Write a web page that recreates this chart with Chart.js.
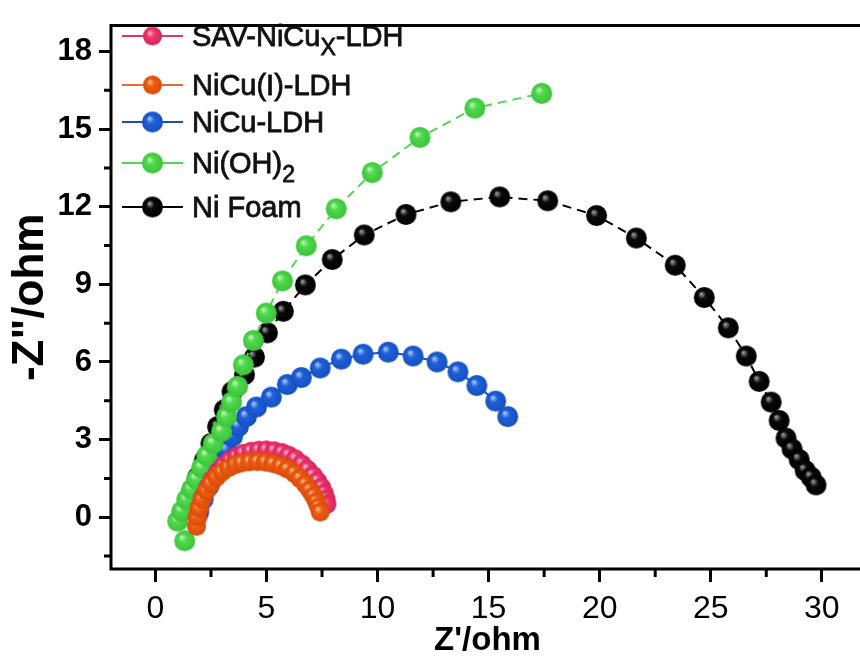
<!DOCTYPE html>
<html>
<head>
<meta charset="utf-8">
<script src="https://cdn.jsdelivr.net/npm/chart.js@4.4.1/dist/chart.umd.min.js"></script>
<style>
    html, body { margin: 0; padding: 0; background: #fff; overflow: hidden; }
    #wrap { width: 860px; height: 657px; overflow: hidden; position: relative; }
    canvas { display: block; }
</style>
</head>
<body>
<div id="wrap"><canvas id="nyquist" width="876" height="657" style="width:876px;height:657px"></canvas></div>
<script>
// --- data (Z' / -Z'' in ohm) ---
const foamX = [1.35, 1.6, 1.9, 2.2, 2.5, 2.8, 3.1, 3.45, 4.01, 4.46, 5.04, 5.76, 6.75, 7.96, 9.40, 11.28, 13.30, 15.50, 17.66, 19.86, 21.65, 23.40, 24.71, 25.79, 26.60, 27.18, 27.72, 28.08, 28.39, 28.66, 28.98, 29.25, 29.52, 29.74];
const foamY = [0.3, 0.9, 1.55, 2.2, 2.85, 3.5, 4.15, 4.85, 5.51, 6.19, 7.13, 7.96, 8.98, 9.96, 10.91, 11.70, 12.19, 12.38, 12.23, 11.66, 10.79, 9.74, 8.49, 7.32, 6.23, 5.25, 4.45, 3.74, 3.06, 2.64, 2.23, 1.81, 1.55, 1.25];

const nioh2X = [1.32, 1.00, 1.18, 1.41, 1.63, 1.85, 2.08, 2.31, 2.60, 2.98, 3.20, 3.43, 3.70, 3.96, 4.41, 4.99, 5.72, 6.79, 8.14, 9.76, 11.91, 14.38, 17.39];
const nioh2Y = [-0.91, -0.15, 0.23, 0.68, 1.09, 1.47, 1.92, 2.38, 2.85, 3.32, 3.89, 4.45, 5.06, 5.89, 6.83, 7.89, 9.13, 10.49, 11.92, 13.32, 14.68, 15.81, 16.38];

const nicuX = [1.95, 2.15, 2.4, 2.65, 2.92, 3.2, 3.47, 3.74, 4.10, 4.55, 5.22, 5.94, 6.57, 7.42, 8.37, 9.35, 10.48, 11.60, 12.68, 13.62, 14.47, 15.32, 15.86];
const nicuY = [0.2, 0.7, 1.2, 1.65, 2.1, 2.6, 3.13, 3.51, 3.89, 4.26, 4.64, 5.13, 5.40, 5.77, 6.11, 6.30, 6.38, 6.23, 6.00, 5.62, 5.09, 4.49, 3.89];

const nicuIX = [1.85, 1.88, 1.97, 2.1, 2.3, 2.5, 2.75, 3.0, 3.3, 3.6, 3.9, 4.25, 4.6, 4.95, 5.3, 5.65, 5.95, 6.25, 6.5, 6.75, 6.95, 7.12, 7.25, 7.35, 7.42];
const nicuIY = [-0.35, 0.0, 0.35, 0.7, 1.02, 1.3, 1.55, 1.75, 1.92, 2.03, 2.1, 2.14, 2.15, 2.13, 2.07, 1.98, 1.86, 1.7, 1.5, 1.28, 1.05, 0.82, 0.6, 0.4, 0.2];

const savX = [1.9, 2.0, 2.15, 2.35, 2.55, 2.8, 3.05, 3.35, 3.65, 3.95, 4.3, 4.65, 5.0, 5.35, 5.7, 6.0, 6.3, 6.6, 6.85, 7.1, 7.3, 7.48, 7.6, 7.68, 7.72];
const savY = [0.0, 0.4, 0.8, 1.15, 1.45, 1.75, 2.0, 2.2, 2.36, 2.47, 2.55, 2.59, 2.6, 2.57, 2.5, 2.4, 2.26, 2.06, 1.85, 1.62, 1.4, 1.16, 0.93, 0.7, 0.5];

const xTickValues = [0, 5, 10, 15, 20, 25, 30];
const yTickValues = [0, 3, 6, 9, 12, 15, 18];
const xMinorTicks = [2.5, 7.5, 12.5, 17.5, 22.5, 27.5];
const yMinorTicks = [-1.5, 1.5, 4.5, 7.5, 10.5, 13.5, 16.5];

const FONT = "'Liberation Sans', Arial, Helvetica, sans-serif";

// shiny ball marker like the Origin "sphere" symbol
function makeBall(base, light, dark, r) {
    const size = Math.ceil(r * 2 + 2);
    const c = document.createElement('canvas');
    c.width = size; c.height = size;
    const g = c.getContext('2d');
    const cx = size / 2, cy = size / 2;
    const grad = g.createRadialGradient(cx - r * 0.3, cy - r * 0.35, r * 0.05, cx, cy, r);
    grad.addColorStop(0, light);
    grad.addColorStop(0.35, base);
    grad.addColorStop(1, dark);
    g.fillStyle = grad;
    g.beginPath();
    g.arc(cx, cy, r, 0, Math.PI * 2);
    g.fill();
    return c;
}

const series = [
    { label: [['SAV-NiCu'], ['X', 1], ['-LDH']], xs: savX, ys: savY, line: '#e0356c',
      ball: makeBall('#ee3a72', '#f9b3c9', '#d42259', 9.5), dash: [], order: 2 },
    { label: [['NiCu(I)-LDH']], xs: nicuIX, ys: nicuIY, line: '#e86a2a',
      ball: makeBall('#ee5d12', '#f9bb90', '#d84c08', 9.5), dash: [], order: 1 },
    { label: [['NiCu-LDH']], xs: nicuX, ys: nicuY, line: '#1a4fb5',
      ball: makeBall('#1f60d8', '#a6c6f7', '#1450c0', 10.5), dash: [], order: 4 },
    { label: [['Ni(OH)'], ['2', 1]], xs: nioh2X, ys: nioh2Y, line: '#55d652',
      ball: makeBall('#4fd94c', '#bdf3b9', '#3cc43a', 10.5), dash: [9, 6], order: 3 },
    { label: [['Ni Foam']], xs: foamX, ys: foamY, line: '#000000',
      ball: makeBall('#0a0a0a', '#9a9a9a', '#000000', 10.5), dash: [9, 6], order: 5 }
];

const datasets = series.map(s => ({
    data: s.xs.map((x, i) => ({ x: x, y: s.ys[i] })),
    showLine: true,
    borderColor: s.line,
    borderWidth: 2,
    borderDash: s.dash,
    pointStyle: s.ball,
    pointRadius: 10,
    order: s.order
}));

// axis frame (left, top, bottom; the right edge runs off the picture) + minor ticks
const frameAndMinor = {
    id: 'frameAndMinor',
    afterDraw(chart) {
        const ctx = chart.ctx, a = chart.chartArea;
        const xs = chart.scales.x, ys = chart.scales.y;
        ctx.save();
        ctx.strokeStyle = '#000';
        ctx.lineWidth = 3;
        ctx.beginPath();
        xMinorTicks.forEach(v => {
            const p = xs.getPixelForValue(v);
            ctx.moveTo(p, a.bottom); ctx.lineTo(p, a.bottom + 8);
        });
        yMinorTicks.forEach(v => {
            const p = ys.getPixelForValue(v);
            ctx.moveTo(a.left, p); ctx.lineTo(a.left - 7, p);
        });
        ctx.moveTo(chart.width, a.top);
        ctx.lineTo(a.left, a.top);
        ctx.lineTo(a.left, a.bottom);
        ctx.lineTo(chart.width, a.bottom);
        ctx.stroke();
        ctx.restore();
    }
};

// legend with subscripts, drawn inside the plot box
const legendRows = [36, 85, 122, 163, 207];
const sketchLegend = {
    id: 'sketchLegend',
    afterDatasetsDraw(chart) {
        const ctx = chart.ctx;
        ctx.save();
        series.forEach((s, i) => {
            const y = legendRows[i];
            ctx.strokeStyle = s.line;
            ctx.lineWidth = 2;
            ctx.beginPath();
            ctx.moveTo(122, y); ctx.lineTo(183, y);
            ctx.stroke();
            ctx.drawImage(s.ball, 152.5 - s.ball.width / 2, y - s.ball.height / 2);
            let x = 192;
            ctx.fillStyle = '#111';
            ctx.strokeStyle = '#111';
            ctx.lineWidth = 0.8;
            ctx.textBaseline = 'alphabetic';
            s.label.forEach(part => {
                const sub = part[1] === 1;
                ctx.font = (sub ? '23px ' : '29px ') + FONT;
                const ty = y + 10 + (sub ? 9 : 0);
                ctx.fillText(part[0], x, ty);
                ctx.strokeText(part[0], x, ty);
                x += ctx.measureText(part[0]).width;
            });
        });
        ctx.restore();
    }
};

new Chart(document.getElementById('nyquist').getContext('2d'), {
    type: 'scatter',
    data: { datasets: datasets },
    plugins: [frameAndMinor, sketchLegend],
    options: {
        responsive: false,
        animation: false,
        events: [],
        layout: { padding: { top: 12, right: 4, left: 0, bottom: 0 } },
        plugins: { legend: { display: false }, tooltip: { enabled: false } },
        scales: {
            x: {
                type: 'linear',
                min: -2,
                max: 31.9,
                afterFit: scale => { scale.height = 88; },
                afterBuildTicks: scale => { scale.ticks = xTickValues.map(v => ({ value: v })); },
                border: { display: false },
                grid: { drawOnChartArea: false, tickLength: 13, tickWidth: 3, tickColor: '#000' },
                ticks: { color: '#000', padding: 8, font: { family: FONT, size: 32 } },
                title: { display: true, text: "Z'/ohm", color: '#000', padding: { top: -4, bottom: -4 },
                         font: { family: FONT, size: 33, weight: 'bold' } }
            },
            y: {
                type: 'linear',
                min: -2,
                max: 19,
                afterFit: scale => { scale.width = 111; },
                afterBuildTicks: scale => { scale.ticks = yTickValues.map(v => ({ value: v })); },
                border: { display: false },
                grid: { drawOnChartArea: false, tickLength: 12, tickWidth: 3, tickColor: '#000' },
                ticks: { color: '#000', padding: 7, font: { family: FONT, size: 31, weight: 'bold' } },
                title: { display: true, text: '-Z"/ohm', color: '#000', padding: { top: 4, bottom: 0 },
                         font: { family: FONT, size: 44, weight: 'bold' } }
            }
        }
    }
});
</script>
</body>
</html>
